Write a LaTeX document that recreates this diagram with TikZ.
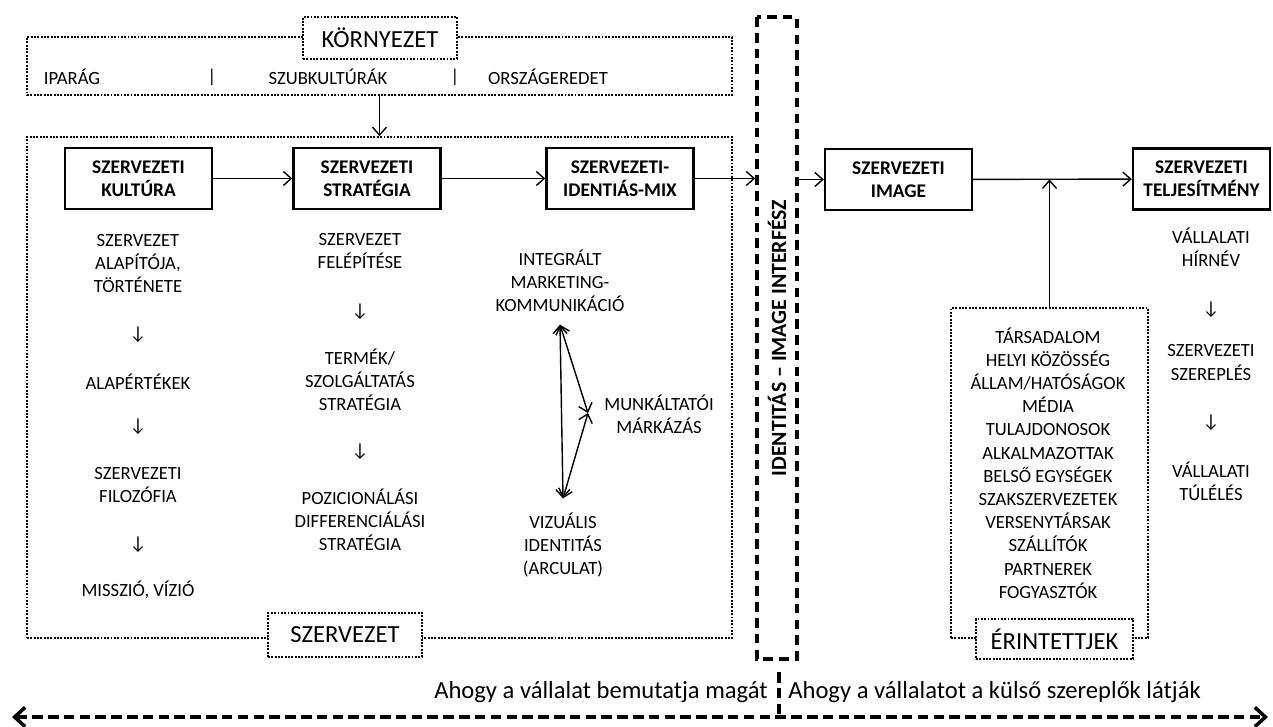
\documentclass[tikz,border=0pt]{standalone}
\usepackage{fontspec}
\setmainfont{Carlito}
\usetikzlibrary{arrows.meta, positioning}

\tikzset{
  >={Straight Barb[length=4.5pt,width=8pt]},
  txt/.style={font=\fontsize{10.6}{13.2}\selectfont, align=center, inner sep=1pt},
  box/.style={draw, line width=1.4pt, font=\bfseries\fontsize{11}{13.2}\selectfont,
    align=center, minimum width=2.94cm, minimum height=1.22cm, inner sep=0pt},
  dotframe/.style={draw, line width=1.1pt, dash pattern=on 1.1pt off 0.8pt, inner sep=0pt},
  framelab/.style={dotframe, fill=white, font=\fontsize{14}{16}\selectfont,
    minimum width=3.08cm, minimum height=0.84cm},
  arr/.style={->, line width=0.8pt},
  bigdash/.style={line width=2pt, dash pattern=on 6pt off 3pt},
  bot/.style={font=\fontsize{14}{17}\selectfont, inner sep=0pt}
}

\begin{document}
\begin{tikzpicture}[x=0.02cm, y=-0.02cm]
  \useasboundingbox (0,0) rectangle (1273,726);

  % Environment
  \node[dotframe, minimum width=14.1cm, minimum height=1.16cm] (env) at (379.5,66) {};
  \node[framelab] (envlab) at (380,38) {KÖRNYEZET};
  \node[txt] (ipar) at (72,77) {IPARÁG};
  \node[txt] (sep1) at (212,77) {|};
  \node[txt] (subk) at (328,77) {SZUBKULTÚRÁK};
  \node[txt] (sep2) at (455,77) {|};
  \node[txt] (orsz) at (548,77) {ORSZÁGEREDET};

  % Organisation
  \node[dotframe, minimum width=14.1cm, minimum height=10.02cm] (org) at (379.5,387.5) {};
  \node[framelab, minimum height=0.88cm] (orglab) at (345,635) {SZERVEZET};
  \draw[arr] (env) -- (org);

  % Main chain
  \node[box] (kult) at (138.5,178.5) {SZERVEZETI\\KULTÚRA};
  \node[box] (strat) at (367,178.5) {SZERVEZETI\\STRATÉGIA};
  \node[box] (mix) at (620,178.5) {SZERVEZETI-\\IDENTIÁS-MIX};
  \node[box] (img) at (898.5,179.5) {SZERVEZETI\\IMAGE};
  \node[box, minimum width=2.74cm] (telj) at (1201.5,179) {SZERVEZETI\\TELJESÍTMÉNY};
  \draw[arr] (kult) -- (strat);
  \draw[arr] (strat) -- (mix);
  \draw[arr] (img) -- (telj);

  % Interface
  \node[draw, line width=2pt, dash pattern=on 5.5pt off 3.5pt, rotate=90,
    minimum width=12.84cm, minimum height=0.8cm, inner sep=0pt,
    font=\bfseries\fontsize{12.4}{14}\selectfont] (intf) at (777,338)
    {IDENTITÁS – IMAGE INTERFÉSZ};
  \draw[arr] (mix) -- (mix -| intf.north);
  \draw[arr] (intf.south |- img) -- (img);

  % Culture column
  \node[txt] (k1) at (138,263.5) {SZERVEZET\\ALAPÍTÓJA,\\TÖRTÉNETE};
  \node[txt] (kd1) at (138,335) {↓};
  \node[txt] (k2) at (138,382) {ALAPÉRTÉKEK};
  \node[txt] (kd2) at (138,427) {↓};
  \node[txt] (k3) at (138,485) {SZERVEZETI\\FILOZÓFIA};
  \node[txt] (kd3) at (138,545) {↓};
  \node[txt] (k4) at (138,590) {MISSZIÓ, VÍZIÓ};

  % Strategy column
  \node[txt] (s1) at (360,251) {SZERVEZET\\FELÉPÍTÉSE};
  \node[txt] (sd1) at (360,312) {↓};
  \node[txt] (s2) at (360,379.5) {TERMÉK/\\SZOLGÁLTATÁS\\STRATÉGIA};
  \node[txt] (sd2) at (360,452) {↓};
  \node[txt] (s3) at (360,519.5) {POZICIONÁLÁSI\\DIFFERENCIÁLÁSI\\STRATÉGIA};

  % Identity mix
  \node[txt] (imk) at (560,281) {INTEGRÁLT\\MARKETING-\\KOMMUNIKÁCIÓ};
  \node[txt] (mm) at (659,414.5) {MUNKÁLTATÓI\\MÁRKÁZÁS};
  \node[txt] (vi) at (563,545) {VIZUÁLIS\\IDENTITÁS\\(ARCULAT)};
  \coordinate (ta) at ([yshift=-6pt]imk.south);
  \coordinate (tb) at ([yshift=7pt]vi.north);
  \coordinate (tm) at (588,413);
  \draw[arr, <->] (ta) -- (tb);
  \draw[arr, <->] (ta) -- (tm);
  \draw[arr, <->] (tb) -- (tm);

  % Stakeholders
  \node[dotframe, minimum width=3.94cm, minimum height=6.6cm] (stakebox) at (1049.5,473) {};
  \node[txt] (stake) at (1048,463) {TÁRSADALOM\\HELYI KÖZÖSSÉG\\ÁLLAM/HATÓSÁGOK\\MÉDIA\\TULAJDONOSOK\\ALKALMAZOTTAK\\BELSŐ EGYSÉGEK\\SZAKSZERVEZETEK\\VERSENYTÁRSAK\\SZÁLLÍTÓK\\PARTNEREK\\FOGYASZTÓK};
  \node[framelab, minimum width=3.14cm, minimum height=0.8cm] (stakelab) at (1054.5,639) {ÉRINTETTJEK};
  \draw[arr] (stakebox.north) -- (stakebox.north |- img.east);

  % Performance column
  \node[txt] (p1) at (1211,247.5) {VÁLLALATI\\HÍRNÉV};
  \node[txt] (pd1) at (1211,310) {↓};
  \node[txt] (p2) at (1211,362.5) {SZERVEZETI\\SZEREPLÉS};
  \node[txt] (pd2) at (1211,423) {↓};
  \node[txt] (p3) at (1211,481) {VÁLLALATI\\TÚLÉLÉS};

  % Bottom axis
  \coordinate (bl) at (12,717);
  \coordinate (br) at (1268,717);
  \draw[bigdash, {Straight Barb[length=6pt,width=11pt]}-{Straight Barb[length=6pt,width=11pt]}] (bl) -- (br);
  \coordinate (dv) at (779,672);
  \draw[bigdash] (dv) -- (dv |- bl);
  \node[bot, anchor=east] (selfv) at (768,692) {Ahogy a vállalat bemutatja magát};
  \node[bot, anchor=west] (extv) at (788,692) {Ahogy a vállalatot a külső szereplők látják};
\end{tikzpicture}
\end{document}
